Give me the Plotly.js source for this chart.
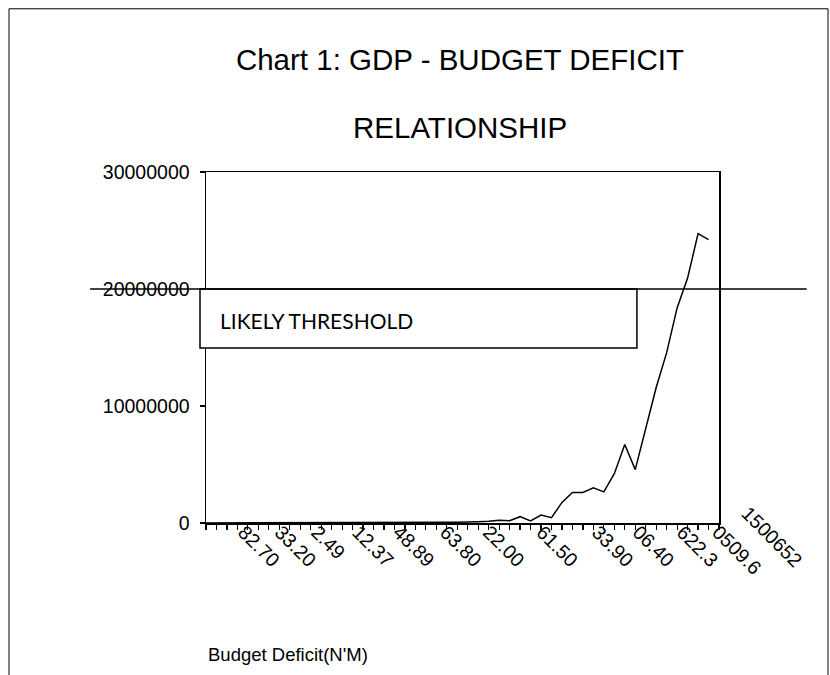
<!DOCTYPE html>
<html>
<head>
<meta charset="utf-8">
<script src="https://cdn.plot.ly/plotly-3.0.1.min.js"></script>
<style>html,body{margin:0;padding:0;background:#fff;}#chart{width:830px;height:675px;}</style>
</head>
<body>
<div id="chart"></div>
<script>
// GDP (N'M) in the order of the budget-deficit categories on the x axis
const gdp = [2361, 2495, 2690, 2795, 2962, 3083, 2745, 2742, 3674, 5281,
  6650, 7188, 8630, 18823, 21475, 26656, 31520, 34540, 41974, 49632,
  50849, 51310, 56550, 63608, 72355, 73062, 108885, 145243, 224797, 200000,
  540000, 170000, 680000, 450000, 1760000, 2610000, 2610000, 3000000, 2660000, 4220000,
  6710000, 4560000, 8180000, 11580000, 14560000, 18380000, 20930000, 24730000, 24220000];
const categoryIndex = gdp.map((v, i) => i);
const nCategories = 50;

// visible (clipped) budget deficit tick labels and where they sit on the category axis
const deficitLabels = ["82.70", "33.20", "2.49", "12.37", "48.89", "63.80", "22.00", "61.50", "33.90", "06.40", "622.3", "0509.6"];
const deficitLabelPos = [3.6, 7.1, 10.6, 14.5, 18.4, 22.9, 27.0, 32.1, 37.4, 41.3, 45.5, 48.9];
const lastLabel = "1500652";

const yTicks = [0, 10000000, 20000000, 30000000];
const yTickText = ["0", "10000000", "20000000", "30000000"];
const yMax = 30000000;
const threshold = 20000000;
const thresholdText = "LIKELY THRESHOLD";
const titleLine1 = "Chart 1: GDP - BUDGET DEFICIT";
const titleLine2 = "RELATIONSHIP";

const axisFont = {family: "Liberation Sans, Arial, sans-serif", size: 19.5, color: "#000"};

const traces = [
  {x: categoryIndex, y: gdp, type: "scatter", mode: "lines", xaxis: "x", yaxis: "y",
   line: {color: "#000", width: 1.5}, hoverinfo: "skip", showlegend: false},
  {x: [], y: [], type: "scatter", mode: "lines", xaxis: "x2", yaxis: "y", showlegend: false}
];

const tf = threshold / yMax;

const layout = {
  width: 830, height: 675,
  margin: {l: 206, r: 111, t: 172, b: 152},
  paper_bgcolor: "#fff", plot_bgcolor: "#fff",
  showlegend: false,
  title: {
    text: titleLine1,
    font: {family: "Liberation Sans, Arial, sans-serif", size: 29.5, color: "#000"},
    x: 0.495, xref: "paper", xanchor: "center",
    y: 0.911, yref: "container", yanchor: "middle"
  },
  xaxis: {
    range: [0, nCategories - 1], tickmode: "linear", tick0: 0, dtick: 1,
    ticks: "outside", ticklen: 5, tickwidth: 1.2, tickcolor: "#000",
    showticklabels: false, showgrid: false, zeroline: false,
    showline: true, linecolor: "#000", linewidth: 1.5, mirror: true, fixedrange: true
  },
  xaxis2: {
    overlaying: "x", anchor: "y", side: "bottom",
    range: [0, nCategories - 1], tickmode: "array",
    tickvals: deficitLabelPos, ticktext: deficitLabels,
    ticks: "", tickangle: 45, tickfont: axisFont, ticklabelstandoff: -7,
    showgrid: false, zeroline: false, showline: false, fixedrange: true
  },
  yaxis: {
    range: [0, yMax], tickmode: "array", tickvals: yTicks, ticktext: yTickText,
    ticks: "outside", ticklen: 5, tickwidth: 1.2, tickcolor: "#000",
    tickfont: axisFont, ticklabelstandoff: 6,
    showgrid: false, zeroline: false,
    showline: true, linecolor: "#000", linewidth: 1.5, mirror: true, fixedrange: true
  },
  shapes: [
    {type: "rect", xref: "paper", yref: "paper", x0: -0.384, x1: 1.2125, y0: -0.46, y1: 1.465,
     line: {color: "#000", width: 1}, fillcolor: "rgba(0,0,0,0)", layer: "below"},
    {type: "rect", xref: "paper", yref: "paper", x0: -0.0117, x1: 0.840, y0: 0.4986, y1: tf,
     line: {color: "#000", width: 1.5}, fillcolor: "#fff", layer: "above"},
    {type: "line", xref: "paper", yref: "paper", x0: -0.226, x1: 1.171, y0: tf, y1: tf,
     line: {color: "#000", width: 1.5}, layer: "above"}
  ],
  annotations: [
    {text: titleLine2, xref: "paper", yref: "paper", x: 0.495, y: 1.128,
     xanchor: "center", yanchor: "middle", showarrow: false,
     font: {family: "Liberation Sans, Arial, sans-serif", size: 29.5, color: "#000"}},
    {text: thresholdText, xref: "paper", yref: "paper", x: 0.0234, y: 0.578,
     xanchor: "left", yanchor: "middle", showarrow: false,
     font: {family: "Lato, Carlito, sans-serif", size: 21, color: "#000"}},
    {text: "Budget Deficit(N'M)", xref: "paper", yref: "paper", x: 0, y: -0.374,
     xanchor: "left", yanchor: "middle", showarrow: false,
     font: {family: "Liberation Sans, Arial, sans-serif", size: 18.5, color: "#000"}},
    {text: lastLabel, xref: "paper", yref: "paper", x: 1.104, y: -0.04,
     xanchor: "center", yanchor: "middle", showarrow: false, textangle: 45,
     font: axisFont}
  ]
};

Plotly.newPlot("chart", traces, layout, {displayModeBar: false, staticPlot: true});
</script>
</body>
</html>
